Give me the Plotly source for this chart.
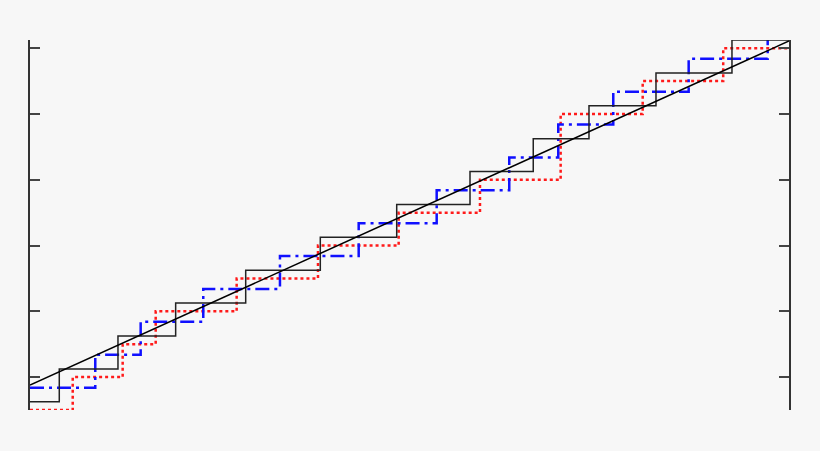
import plotly.graph_objects as go

# Black staircase
black_steps = [0.155, 0.967, 1.765, 2.734, 3.766, 4.823, 5.837, 6.712, 7.483, 8.410, 9.461]
black_levels = [-0.75, 0.25, 1.25, 2.25, 3.25, 4.25, 5.25, 6.25, 7.25, 8.25, 9.25, 10.25]

# Red dotted staircase
red_steps = [0.341, 1.032, 1.489, 2.609, 3.734, 4.850, 5.975, 7.091, 8.226, 9.340]
red_levels = [-1, 0, 1, 2, 3, 4, 5, 6, 8, 9, 10]

# Blue dash-dot staircase
blue_steps = [0.653, 1.281, 2.147, 3.208, 4.297, 5.376, 6.380, 7.058, 7.819, 8.862, 9.955]
blue_levels = [-0.32, 0.68, 1.68, 2.68, 3.68, 4.68, 5.68, 6.68, 7.68, 8.68, 9.68, 10.68]

# Diagonal reference line
diag_x = [-0.25, 10.25]
diag_y = [-0.24, 10.22]

y_ticks = [0, 2, 4, 6, 8, 10]
x_min, x_max = -0.25, 10.25


def stair(steps, levels):
    xs = [x_min] + steps + [x_max]
    ys = levels + [levels[-1]]
    return xs, ys


fig = go.Figure()

bx, by = stair(black_steps, black_levels)
rx, ry = stair(red_steps, red_levels)
ux, uy = stair(blue_steps, blue_levels)

fig.add_trace(go.Scatter(x=rx, y=ry, mode="lines", line_shape="hv",
                         line=dict(color="#ff1a1a", width=2.5, dash="3px,3px")))
fig.add_trace(go.Scatter(x=ux, y=uy, mode="lines", line_shape="hv",
                         line=dict(color="#1010ff", width=2.5, dash="14px,5px,3px,5px")))
fig.add_trace(go.Scatter(x=bx, y=by, mode="lines", line_shape="hv",
                         line=dict(color="#222222", width=1.5)))
fig.add_trace(go.Scatter(x=diag_x, y=diag_y, mode="lines",
                         line=dict(color="#000000", width=1.5)))

fig.update_layout(
    width=820, height=451,
    margin=dict(l=30, r=31, t=40, b=41),
    paper_bgcolor="#f7f7f7",
    plot_bgcolor="#f7f7f7",
    showlegend=False,
    xaxis=dict(range=[x_min, x_max], showgrid=False, zeroline=False,
               showline=False, ticks="", showticklabels=False),
    yaxis=dict(range=[-1, 10.25], showgrid=False, zeroline=False,
               showline=True, linecolor="#333333", linewidth=1.5,
               mirror="ticks", ticks="inside", ticklen=10,
               tickwidth=1.5, tickcolor="#444444",
               tickvals=y_ticks, showticklabels=False),
)

fig.write_html(
    "out.html",
    config={"displayModeBar": False},
    post_script="document.body.style.margin='0';document.body.style.overflow='hidden';document.body.style.background='#f7f7f7';",
)
